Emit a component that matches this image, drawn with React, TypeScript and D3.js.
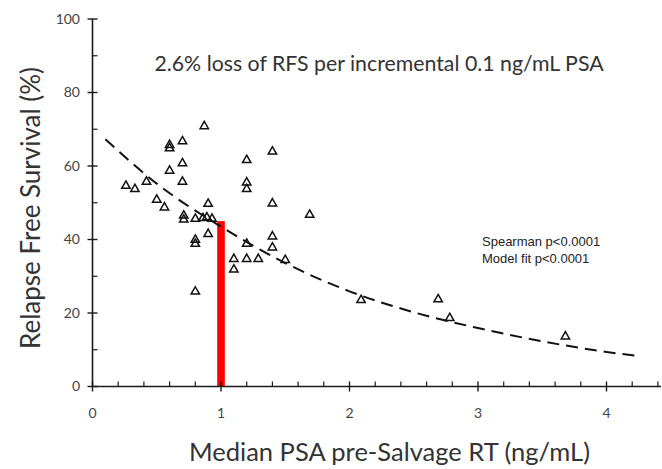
import React from "react";
import * as d3 from "d3";

const psaValues = [0.26, 0.33, 0.42, 0.5, 0.56, 0.6, 0.6, 0.6, 0.7, 0.7, 0.7, 0.71, 0.71, 0.8, 0.8, 0.8, 0.8, 0.87, 0.9, 0.9, 0.86, 0.89, 0.93, 1.1, 1.1, 1.2, 1.2, 1.2, 1.2, 1.2, 1.29, 1.4, 1.4, 1.4, 1.4, 1.5, 1.69, 2.09, 2.69, 2.78, 3.68];
const rfsValues = [54.8, 53.9, 55.9, 51.0, 48.9, 65.9, 65.0, 58.9, 66.9, 60.9, 55.9, 46.7, 45.6, 45.8, 40.1, 39.0, 26.0, 71.0, 49.9, 41.7, 46.0, 46.2, 45.8, 34.9, 32.0, 61.8, 55.7, 53.9, 39.0, 34.9, 34.9, 64.1, 50.0, 41.0, 38.0, 34.6, 46.9, 23.7, 23.9, 18.8, 13.8];

const fitX = [0.1, 0.5, 1.0, 1.5, 2.0, 2.5, 3.0, 3.5, 4.0, 4.22];
const fitY = [67.3, 55.2, 43.5, 33.6, 25.9, 20.2, 15.9, 12.3, 9.4, 8.4];

const barX = [1];
const barY = [45];

const xTicks = [0, 1, 2, 3, 4];
const yTicks = [0, 20, 40, 60, 80, 100];

const W = 662;
const H = 469;

export default function App() {
  const x = d3.scaleLinear().domain([0, 1]).range([92.5, 221]);
  const y = d3.scaleLinear().domain([0, 100]).range([386.5, 19]);
  const xEnd = 661;
  const xMinor = d3.range(0, 44).map((i) => i * 0.2).filter((v) => x(v) < xEnd - 1 && Math.abs(v - Math.round(v)) > 1e-6);
  const yMinor = [10, 30, 50, 70, 90];

  const line = d3
    .line<number>()
    .x((_, i) => x(fitX[i]))
    .y((d) => y(d))
    .curve(d3.curveMonotoneX);

  const tri = (cx: number, cy: number) => {
    const s = 4.2;
    return `M${cx},${cy - s}L${cx + s},${cy + s * 0.75}L${cx - s},${cy + s * 0.75}Z`;
  };

  const axisColor = "#1a1a1a";
  const tickFont = "Lato, 'Open Sans', sans-serif";

  return (
    <svg width={W} height={H} style={{ position: "absolute", left: 0, top: 0, background: "#fff" }}>
      {barX.map((bx, i) => (
        <rect key={"b" + i} x={x(bx) - 3.8} y={y(barY[i])} width={7.6} height={y(0) - y(barY[i])} fill="#ff0000" />
      ))}
      <path d={line(fitY) || ""} fill="none" stroke="#111" strokeWidth={2} strokeDasharray="12,7" />
      {psaValues.map((px, i) => (
        <path key={"p" + i} d={tri(x(px), y(rfsValues[i]))} fill="none" stroke="#111" strokeWidth={1.5} />
      ))}
      <line x1={x(0)} x2={x(0)} y1={y(100)} y2={y(0)} stroke={axisColor} strokeWidth={1.6} />
      {yTicks.map((t) => (
        <g key={"yt" + t}>
          <line x1={x(0) - 5} x2={x(0) + 5} y1={y(t)} y2={y(t)} stroke={axisColor} strokeWidth={1.4} />
          <text x={80} y={y(t)} dy="0.35em" textAnchor="end" fontFamily={tickFont} fontSize={14} fill="#444">
            {t}
          </text>
        </g>
      ))}
      {yMinor.map((t) => (
        <line key={"ym" + t} x1={x(0)} x2={x(0) + 5} y1={y(t)} y2={y(t)} stroke={axisColor} strokeWidth={1.2} />
      ))}
      <line x1={x(0)} x2={xEnd} y1={y(0)} y2={y(0)} stroke={axisColor} strokeWidth={1.6} />
      {xTicks.map((t) => (
        <g key={"xt" + t}>
          <line x1={x(t)} x2={x(t)} y1={y(0) - 5} y2={y(0) + 5} stroke={axisColor} strokeWidth={1.4} />
          <text x={x(t)} y={413} dy="0.35em" textAnchor="middle" fontFamily={tickFont} fontSize={14} fill="#444">
            {t}
          </text>
        </g>
      ))}
      {xMinor.map((t, i) => (
        <line key={"xm" + i} x1={x(t)} x2={x(t)} y1={y(0) - 5} y2={y(0)} stroke={axisColor} strokeWidth={1.2} />
      ))}
      <text x={379} y={71} textAnchor="middle" fontFamily={tickFont} fontSize={21.3} fill="#333">
        2.6% loss of RFS per incremental 0.1 ng/mL PSA
      </text>
      <text x={482} y={241} dy="0.35em" fontFamily="'Liberation Sans', Arial, sans-serif" fontSize={13} fill="#222">
        Spearman p&lt;0.0001
      </text>
      <text x={482} y={258} dy="0.35em" fontFamily="'Liberation Sans', Arial, sans-serif" fontSize={13} fill="#222">
        Model fit p&lt;0.0001
      </text>
      <text
        transform={`translate(40,208) rotate(-90)`}
        textAnchor="middle"
        fontFamily={tickFont}
        fontSize={26}
        fill="#333"
      >
        Relapse Free Survival (%)
      </text>
      <text x={389.5} y={460.5} textAnchor="middle" fontFamily={tickFont} fontSize={25.5} fill="#333">
        Median PSA pre-Salvage RT (ng/mL)
      </text>
    </svg>
  );
}
